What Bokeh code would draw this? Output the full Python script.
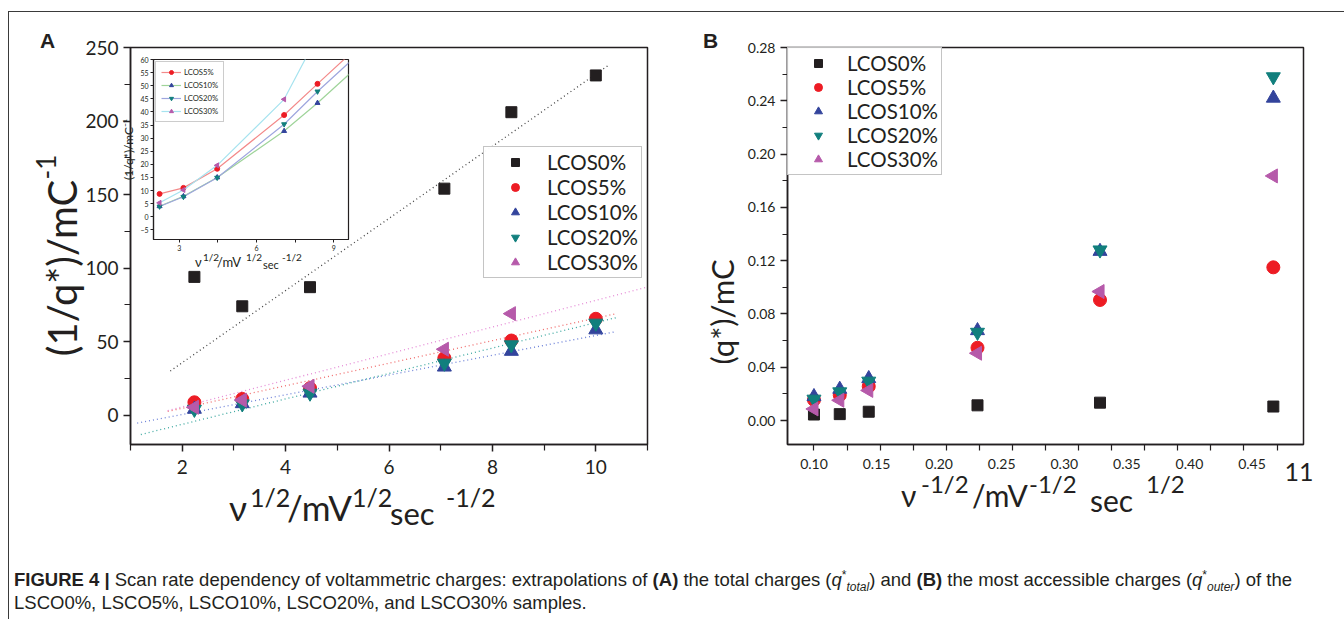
import math
from bokeh.plotting import figure
from bokeh.models import Range1d, Legend, LegendItem, FixedTicker, Div
from bokeh.layouts import row, column
from bokeh.embed import file_html
from bokeh.resources import INLINE
from bokeh.core.properties import value

# ---------------- data ----------------
series = ["LCOS0%", "LCOS5%", "LCOS10%", "LCOS20%", "LCOS30%"]

# panel A: x = v^1/2
sqrt_v = [2.236, 3.162, 4.472, 7.071, 8.367, 10.0]
inv_q_0 = [94, 74, 87, 154, 206, 231]
inv_q_5 = [8.7, 11.0, 18.3, 38.8, 50.7, 65.5]
inv_q_10 = [4.0, 7.8, 15.0, 32.7, 43.4, 58.0]
inv_q_20 = [3.9, 7.6, 14.9, 35.3, 47.8, 62.5]
inv_q_30 = [5.3, 10.2, 19.6, 44.8, 69.0]

# dotted extrapolation lines of panel A (end points)
fit_x0 = [1.77, 1.72, 1.13, 1.20, 1.72]
fit_y0 = [30.0, 2.5, -5.4, -13.2, 3.0]
fit_x1 = [10.25, 10.40, 10.35, 10.42, 10.97]
fit_y1 = [238.0, 69.0, 56.5, 66.5, 86.8]

# panel B: x = v^-1/2
inv_sqrt_v = [0.100, 0.1195, 0.1414, 0.2236, 0.3162, 0.4472]
q_0 = [0.0045, 0.0048, 0.0066, 0.0114, 0.0134, 0.0105]
q_5 = [0.0155, 0.0190, 0.0256, 0.0546, 0.0905, 0.1150]
q_10 = [0.0180, 0.0235, 0.0315, 0.0675, 0.1270, 0.2420]
q_20 = [0.0160, 0.0215, 0.0295, 0.0662, 0.1280, 0.2580]
q_30 = [0.0087, 0.0152, 0.0226, 0.0505, 0.0968, 0.1836]

a_yticks = [0, 50, 100, 150, 200, 250]
a_xticks = [2, 4, 6, 8, 10]
b_yticks = [0.00, 0.04, 0.08, 0.12, 0.16, 0.20, 0.24, 0.28]
b_xticks = [0.10, 0.15, 0.20, 0.25, 0.30, 0.35, 0.40, 0.45]
inset_yticks = list(range(-5, 61, 5))
inset_xticks = [3, 6, 9]

# ---------------- styles ----------------
INK = "#231f20"
FONT = "Lato"
colors = ["#231f20", "#ed1c24", "#33449c", "#117f7d", "#b65aaa"]
fit_colors = ["#444444", "#f06a6a", "#6c80d8", "#3aa79f", "#e58ad6"]
inset_line_colors = ["#f38a8a", "#9fd49a", "#9ea6de", "#a6e3ef"]
markers = ["square", "circle", "triangle", "inverted_triangle", "triangle"]
angles = [0, 0, 0, 0, math.pi / 2]
msize = [11, 13, 14, 14, 14]


def style_axes(p, lab_size):
    p.xgrid.visible = False
    p.ygrid.visible = False
    p.border_fill_color = None
    p.background_fill_color = None
    p.outline_line_color = INK
    p.outline_line_width = 1.5
    for ax in (p.xaxis[0], p.yaxis[0]):
        ax.axis_line_color = INK
        ax.axis_line_width = 1.5
        ax.major_tick_line_color = INK
        ax.minor_tick_line_color = INK
        ax.major_tick_line_width = 1.5
        ax.minor_tick_line_width = 1.2
        ax.major_tick_in = 0
        ax.minor_tick_in = 0
        ax.major_label_text_font = FONT
        ax.major_label_text_font_size = lab_size
        ax.major_label_text_color = INK


# ================= background page: frame lines + titles (HTML text) =================
ASC = {"Lato": 0.887, "Liberation Sans": 0.8465}


def base(x, baseline, text, size, font=FONT, weight="normal"):
    top = baseline - ASC[font] * size
    return (f'<span style="position:absolute;left:{x}px;top:{top:.1f}px;font-family:\'{font}\';'
            f'font-size:{size}px;line-height:1;font-weight:{weight};white-space:nowrap;">'
            f'{text}</span>')


def centred(cx, cy, text, size, rotate=False, font=FONT):
    rot = " rotate(-90deg)" if rotate else ""
    return (f'<span style="position:absolute;left:{cx}px;top:{cy}px;'
            f'transform:translate(-50%,-50%){rot};font-family:\'{font}\';font-size:{size}px;'
            f'line-height:1;white-space:nowrap;">{text}</span>')


pieces = [
    '<div style="position:absolute;left:8px;top:11px;width:1336px;height:608px;'
    'border-top:1.5px solid #3a3a3a;border-left:1.5px solid #3a3a3a;"></div>',
    base(40, 48, "A", 21, font="Liberation Sans", weight="bold"),
    base(703, 48, "B", 21, font="Liberation Sans", weight="bold"),
    # panel A titles
    centred(62, 268, "(1/q*)/mC", 40, rotate=True),
    centred(46, 167, "-1", 26, rotate=True),
    base(229, 521, "\u03bd", 35), base(250, 507, "1/2", 25), base(287, 521, "/mV", 35),
    base(352, 507, "1/2", 25), base(390, 525, "sec", 31), base(446, 507, "-1/2", 25),
    # inset x title
    base(195, 267, "\u03bd", 13), base(203, 261, "1/2", 10), base(217, 267, "/mV", 13),
    base(246, 261, "1/2", 10), base(263, 269, "sec", 11), base(282, 261, "-1/2", 10),
    # panel B titles
    centred(722, 312, "(q*)/mC", 31, rotate=True),
    base(901, 507, "\u03bd", 30), base(921, 493, "-1/2", 24), base(972, 507, "/mV", 30),
    base(1029, 493, "-1/2", 24), base(1090, 512, "sec", 30), base(1146, 493, "1/2", 24),
    centred(1299, 471, "11", 25),
]
bg_html = (f'<div style="position:relative;width:1344px;height:619px;color:{INK};">'
           + "".join(pieces) + '</div>')
bg = Div(text=bg_html, width=1344, height=619, margin=(0, 0, 0, 0))

# ================= panel A =================
pa = figure(width=672, height=520, x_range=Range1d(1, 11), y_range=Range1d(-20, 250),
            output_backend="svg", toolbar_location=None,
            min_border_left=122, min_border_right=33, min_border_top=33, min_border_bottom=82)
style_axes(pa, "19px")
pa.xaxis.ticker = FixedTicker(ticks=a_xticks, minor_ticks=[1, 3, 5, 7, 9, 11])
pa.yaxis.ticker = FixedTicker(ticks=a_yticks, minor_ticks=[25, 75, 125, 175, 225])
pa.xaxis.major_tick_out = 7
pa.xaxis.minor_tick_out = 6
pa.yaxis.major_tick_out = 7
pa.yaxis.minor_tick_out = 6
pa.xaxis.major_label_standoff = 8

for i in range(5):
    pa.line([fit_x0[i], fit_x1[i]], [fit_y0[i], fit_y1[i]], line_color=fit_colors[i],
            line_width=1.3, line_dash="1 3")

a_sets = [inv_q_0, inv_q_5, inv_q_10, inv_q_20, inv_q_30]
rendA = []
for i, ys in enumerate(a_sets):
    r = pa.scatter(sqrt_v[:len(ys)], ys, marker=markers[i], size=msize[i], angle=angles[i],
                   fill_color=colors[i], line_color=colors[i])
    rendA.append(r)

legA = Legend(items=[LegendItem(label=value(n), renderers=[r]) for n, r in zip(series, rendA)],
              location=(353, 166), label_text_font=FONT, label_text_font_size="20.5px",
              label_text_color=INK, label_height=20, glyph_height=20, glyph_width=56,
              label_standoff=4, spacing=1, padding=3, margin=0,
              border_line_color="#8a8a8a", border_line_width=1)
pa.add_layout(legA)

# ================= panel B =================
pb = figure(width=656, height=520, x_range=Range1d(0.08, 0.47), y_range=Range1d(-0.018, 0.28),
            output_backend="svg", toolbar_location=None,
            min_border_left=107, min_border_right=33, min_border_top=31, min_border_bottom=90)
style_axes(pb, "14px")
pb.yaxis.ticker = FixedTicker(ticks=b_yticks,
                              minor_ticks=[0.02, 0.06, 0.10, 0.14, 0.18, 0.22, 0.26])
pb.yaxis.major_label_overrides = {v: f"{v:.2f}" for v in b_yticks}
pb.yaxis.major_tick_out = 7
pb.yaxis.minor_tick_out = 5
# tick labels in the original sit slightly left of their tick marks
lab_pos = [round(0.10 + (v - 0.10) * 0.946, 4) for v in b_xticks]
true_ticks = [round(0.10 + 0.025 * k, 4) for k in range(0, 15)]
pb.xaxis.ticker = FixedTicker(ticks=lab_pos, minor_ticks=true_ticks)
pb.xaxis.major_label_overrides = {lp: f"{v:.2f}" for lp, v in zip(lab_pos, b_xticks)}
pb.xaxis.major_tick_out = 0
pb.xaxis.major_tick_line_color = None
pb.xaxis.minor_tick_out = 6
pb.xaxis.major_label_standoff = 8

b_sets = [q_0, q_5, q_10, q_20, q_30]
rendB = []
for i, ys in enumerate(b_sets):
    r = pb.scatter(inv_sqrt_v, ys, marker=markers[i], size=msize[i], angle=angles[i],
                   fill_color=colors[i], line_color=colors[i])
    rendB.append(r)
legB = Legend(items=[LegendItem(label=value(n), renderers=[r]) for n, r in zip(series, rendB)],
              location="top_left", label_text_font=FONT, label_text_font_size="20.5px",
              label_text_color=INK, label_height=20, glyph_height=20, glyph_width=54,
              label_standoff=2, spacing=0, padding=3, margin=0,
              border_line_color="#8a8a8a", border_line_width=1)
legB.background_fill_color = "white"
pb.add_layout(legB)

# ================= inset =================
pi_ = figure(width=234, height=223, x_range=Range1d(2, 9.57), y_range=Range1d(-8.7, 60),
             output_backend="svg", toolbar_location=None, sizing_mode="fixed",
             min_border_left=30, min_border_right=4, min_border_top=7, min_border_bottom=36,
             margin=(52 - 534, 0, 0, 118))
style_axes(pi_, "7px")
pi_.background_fill_color = "white"
pi_.outline_line_width = 1.2
pi_.xaxis.axis_line_width = 1.2
pi_.yaxis.axis_line_width = 1.2
pi_.xaxis.ticker = FixedTicker(ticks=inset_xticks, minor_ticks=[4.5, 7.5])
pi_.yaxis.ticker = FixedTicker(ticks=inset_yticks, minor_ticks=[])
for ax in (pi_.xaxis[0], pi_.yaxis[0]):
    ax.major_tick_out = 3
    ax.minor_tick_out = 3
    ax.major_tick_line_width = 1
    ax.minor_tick_line_width = 1
    ax.major_label_standoff = 2
pi_.yaxis.axis_label = "(1/q*)/mC\u207b\u00b9"
pi_.yaxis.axis_label_text_font = FONT
pi_.yaxis.axis_label_text_font_size = "12px"
pi_.yaxis.axis_label_text_font_style = "normal"
pi_.yaxis.axis_label_text_color = INK
pi_.yaxis.axis_label_standoff = 1

inset_items = []
for k, ys in enumerate(a_sets[1:]):
    i = k + 1
    ln = pi_.line(sqrt_v[:len(ys)], ys, line_color=inset_line_colors[k], line_width=1.2)
    sc = pi_.scatter(sqrt_v[:len(ys)], ys, marker=markers[i], size=5, angle=angles[i],
                     fill_color=colors[i], line_color=colors[i])
    inset_items.append(LegendItem(label=value(series[i]), renderers=[ln, sc]))
legI = Legend(items=inset_items, location="top_left", label_text_font=FONT,
              label_text_font_size="7.7px", label_text_color=INK, label_height=10,
              glyph_height=10, glyph_width=20, label_standoff=3, spacing=3, padding=5,
              margin=2, border_line_color="#9a9a9a", border_line_width=1)
pi_.add_layout(legI)

# ================= caption =================
sup = '<sup style="font-size:12px;line-height:0">*</sup>'
cap_html = (
    '<div style="font-family:\'Liberation Sans\',Arial,sans-serif;font-size:18.5px;'
    'line-height:23px;color:#231f20;padding:34px 0 0 6px;white-space:nowrap;height:85px;'
    'overflow:hidden;box-sizing:border-box;">'
    '<b>FIGURE 4 |</b> Scan rate dependency of voltammetric charges: extrapolations of '
    '<b>(A)</b> the total charges (<i>q</i>' + sup +
    '<sub style="font-size:12px;line-height:0"><i>total</i></sub>) and <b>(B)</b> the most '
    'accessible charges (<i>q</i>' + sup +
    '<sub style="font-size:12px;line-height:0"><i>outer</i></sub>) of the<br>'
    'LSCO0%, LSCO5%, LSCO10%, LSCO20%, and LSCO30% samples.</div>'
)
cap = Div(text=cap_html, width=1336, height=85, margin=(259, 0, 0, 8))

plots = row(pa, pb, margin=(14 - 619, 0, 0, 8))
layout = column(bg, plots, pi_, cap)

open("out.html", "w").write(file_html(layout, INLINE))
